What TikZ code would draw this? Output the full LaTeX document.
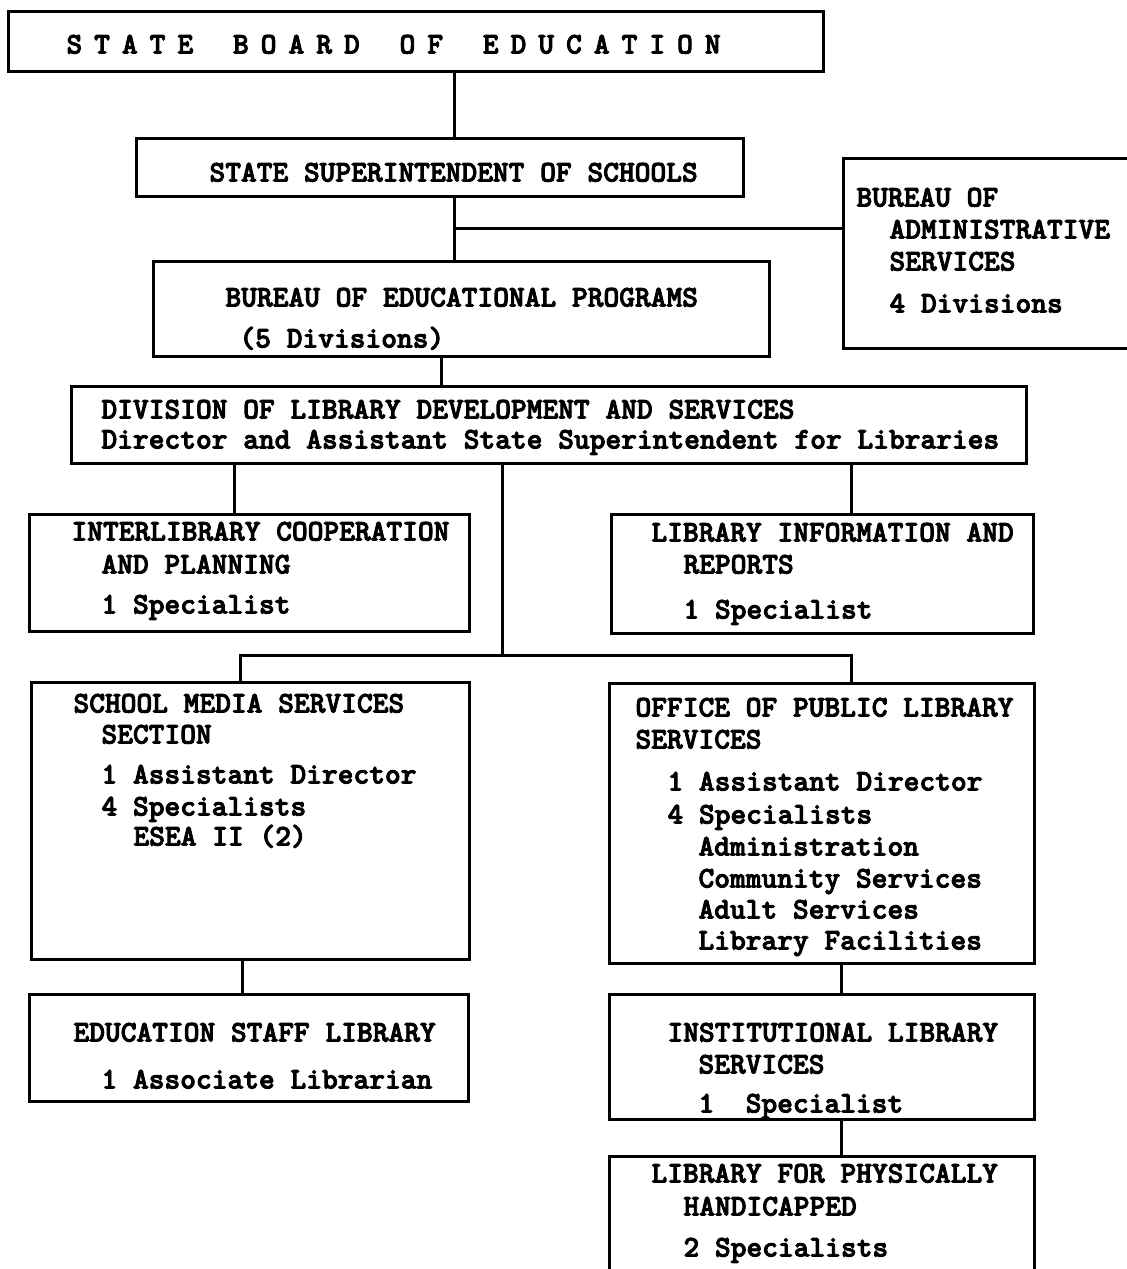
\documentclass[tikz,border=0pt]{standalone}
\usepackage{fontspec}
\newfontfamily\typewr{lmmonolt10-bold}[Extension=.otf, FakeBold=3]
\newcommand{\lsp}{\hspace{6pt}}
\newcommand{\wsp}{\hspace{19.9pt}}
\begin{document}
\begin{tikzpicture}[x=0.5pt,y=-0.5pt,
  box/.style={draw, line width=1.5pt, anchor=north west, inner sep=0pt, align=left,
    font=\typewr\fontsize{15}{16}\selectfont,
    execute at begin node={\spaceskip=7.875pt\relax}},
  link/.style={line width=1.5pt}]
\useasboundingbox (0,0) rectangle (1127,1269);
\clip (0,0) rectangle (1127,1269);

\node[box, text width=407.5pt, text height=21pt, text depth=9pt] (board) at (7,10)
  {\hspace*{29pt}S\lsp T\lsp A\lsp T\lsp E\wsp B\lsp O\lsp A\lsp R\lsp D\wsp
   O\lsp F\wsp E\lsp D\lsp U\lsp C\lsp A\lsp T\lsp I\lsp O\lsp N};
\node[box, text width=303.5pt, text height=21.5pt, text depth=7.5pt] (sup) at (135,137)
  {\hspace*{36.5pt}STATE SUPERINTENDENT OF SCHOOLS};
\node[box, text width=149pt, text height=24pt, text depth=71pt] (adm) at (842,157)
  {\hspace*{6.5pt}BUREAU OF\\
   \hspace*{23pt}ADMINISTRATIVE\\
   \hspace*{23pt}SERVICES\\[5pt]
   \hspace*{23pt}4 Divisions};
\node[box, text width=308pt, text height=22.5pt, text depth=25pt] (prog) at (152,260)
  {\hspace*{36pt}BUREAU OF EDUCATIONAL PROGRAMS\\[4.5pt]
   \hspace*{43pt}(5 Divisions)};
\node[box, text width=477.5pt, text height=16pt, text depth=22.5pt] (div) at (70,385)
  {\hspace*{15pt}DIVISION OF LIBRARY DEVELOPMENT AND SERVICES\\[-1pt]
   \hspace*{15pt}Director and Assistant State Superintendent for Libraries};

\node[box, text width=220pt, text height=13pt, text depth=45.5pt] (inter) at (28,513)
  {\hspace*{21pt}INTERLIBRARY COOPERATION\\[0.5pt]
   \hspace*{36pt}AND PLANNING\\[4pt]
   \hspace*{36pt}1 Specialist};
\node[box, text width=211pt, text height=13.5pt, text depth=46pt] (info) at (610,513)
  {\hspace*{20pt}LIBRARY INFORMATION AND\\
   \hspace*{36pt}REPORTS\\[6.5pt]
   \hspace*{36pt}1 Specialist};

\node[box, text width=219pt, text height=15pt, text depth=123.5pt] (school) at (30,681)
  {\hspace*{21pt}SCHOOL MEDIA SERVICES\\[-0.5pt]
   \hspace*{35pt}SECTION\\[4pt]
   \hspace*{35pt}1 Assistant Director\\
   \hspace*{35pt}4 Specialists\\[-1pt]
   \hspace*{51pt}ESEA II (2)};
\node[box, text width=212.5pt, text height=16.5pt, text depth=123.5pt] (public) at (608,682)
  {\hspace*{13pt}OFFICE OF PUBLIC LIBRARY\\
   \hspace*{13pt}SERVICES\\[5pt]
   \hspace*{29pt}1 Assistant Director\\[0.5pt]
   \hspace*{29pt}4 Specialists\\
   \hspace*{44.5pt}Administration\\
   \hspace*{44.5pt}Community Services\\[-0.5pt]
   \hspace*{44.5pt}Adult Services\\[-0.5pt]
   \hspace*{44.5pt}Library Facilities};

\node[box, text width=219.5pt, text height=23.5pt, text depth=30pt] (staff) at (28,993)
  {\hspace*{22pt}EDUCATION STAFF LIBRARY\\[7.5pt]
   \hspace*{36pt}1 Associate Librarian};
\node[box, text width=212.5pt, text height=23.5pt, text depth=39pt] (inst) at (608,993)
  {\hspace*{29pt}INSTITUTIONAL LIBRARY\\
   \hspace*{44.5pt}SERVICES\\[3.5pt]
   \hspace*{44.5pt}1~~Specialist};
\node[box, text width=212.5pt, text height=13pt, text depth=59.5pt] (phys) at (608,1155)
  {\hspace*{21pt}LIBRARY FOR PHYSICALLY\\[0.5pt]
   \hspace*{37pt}HANDICAPPED\\[4.5pt]
   \hspace*{37pt}2 Specialists};

% connecting lines
\coordinate (sp) at (454,0);
\coordinate (tee) at (454,228);
\coordinate (sp2) at (441,0);
\coordinate (l1) at (234,0);
\coordinate (r1) at (851,0);
\coordinate (fork) at (502,655);
\coordinate (l2) at (240,655);
\coordinate (r2) at (851,655);
\coordinate (l3) at (242,0);
\coordinate (r3) at (841,0);

\draw[link] (board.south -| sp) -- (sup.north -| sp);
\draw[link] (sup.south -| sp) -- (prog.north -| sp);
\draw[link] (tee) -- (tee -| adm.west);
\draw[link] (prog.south -| sp2) -- (div.north -| sp2);
\draw[link] (div.south -| l1) -- (inter.north -| l1);
\draw[link] (div.south -| r1) -- (info.north -| r1);
\draw[link] (div.south -| fork) -- (fork);
\draw[link] (school.north -| l2) -- (l2) -- (r2) -- (public.north -| r2);
\draw[link] (school.south -| l3) -- (staff.north -| l3);
\draw[link] (public.south -| r3) -- (inst.north -| r3);
\draw[link] (inst.south -| r3) -- (phys.north -| r3);
\end{tikzpicture}
\end{document}
